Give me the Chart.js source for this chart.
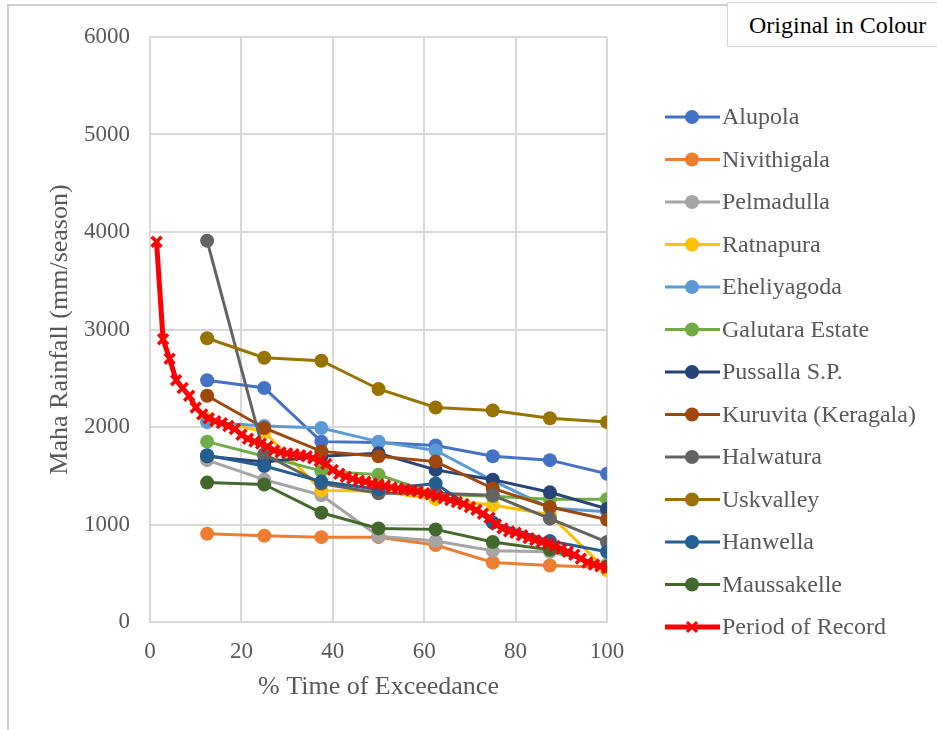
<!DOCTYPE html>
<html>
<head>
<meta charset="utf-8">
<script src="https://cdn.jsdelivr.net/npm/chart.js@4.4.1/dist/chart.umd.min.js"></script>
<style>
  body { margin: 0; background: #fff; }
  #wrap { position: relative; width: 937px; height: 730px; overflow: hidden; }
  #frame { position: absolute; left: 7px; top: 4px; width: 940px; height: 740px;
           border-top: 2px solid #cfcfcf; border-left: 2px solid #cfcfcf; }
  #tag { position: absolute; left: 727px; top: 2px; width: 215px; height: 45px;
         border: 1px solid #d6d6d6; background: #fff; box-sizing: border-box;
         font: 24px "Liberation Serif", "Times New Roman", serif; color: #000;
         line-height: 45px; padding-left: 21px; }
  canvas { position: absolute; left: 0; top: 0; }
</style>
</head>
<body>
<div id="wrap">
  <div id="frame"></div>
  <canvas id="chart1" width="937" height="730"></canvas>
  <div id="tag">Original in Colour</div>
</div>
<script>
// exceedance positions of the station curves (%)
const stationX = [12.5, 25, 37.5, 50, 62.5, 75, 87.5, 100];

// rainfall per station (mm/season)
const alupola     = [2480, 2400, 1850, 1840, 1810, 1700, 1660, 1520];
const nivithigala = [905, 885, 870, 870, 790, 610, 580, 560];
const pelmadulla  = [1660, 1460, 1300, 880, 830, 730, 720, 590];
const ratnapura   = [2080, 1950, 1350, 1340, 1260, 1200, 1100, 530];
const eheliyagoda = [2050, 2010, 1990, 1850, 1760, 1450, 1170, 1130];
const galutara    = [1850, 1700, 1550, 1510, 1310, 1290, 1260, 1260];
const pussalla    = [1700, 1640, 1700, 1730, 1560, 1460, 1330, 1160];
const kuruvita    = [2320, 1990, 1750, 1700, 1645, 1370, 1180, 1050];
const halwatura   = [3910, 1720, 1420, 1320, 1320, 1300, 1060, 820];
const uskvalley   = [2910, 2710, 2680, 2390, 2200, 2170, 2090, 2050];
const hanwella    = [1710, 1600, 1440, 1360, 1420, 1020, 830, 720];
const maussakelle = [1430, 1410, 1120, 960, 950, 820, 740, 570];

// period of record, ranked from wettest to driest season
const recordValues = [3900, 2900, 2700, 2480, 2400, 2320, 2200, 2130, 2090, 2060,
  2040, 2010, 1980, 1920, 1880, 1850, 1830, 1800, 1760, 1740,
  1730, 1720, 1710, 1700, 1680, 1650, 1620, 1560, 1520, 1490,
  1470, 1450, 1440, 1420, 1410, 1400, 1380, 1370, 1360, 1350,
  1340, 1320, 1310, 1290, 1270, 1250, 1230, 1210, 1180, 1150,
  1110, 1070, 1000, 960, 930, 915, 890, 860, 840, 820,
  805, 780, 750, 720, 690, 650, 610, 590, 570, 550];

const names = ['Alupola', 'Nivithigala', 'Pelmadulla', 'Ratnapura', 'Eheliyagoda',
  'Galutara Estate', 'Pussalla S.P.', 'Kuruvita (Keragala)', 'Halwatura', 'Uskvalley',
  'Hanwella', 'Maussakelle', 'Period of Record'];
const colors = ['#4472c4', '#ed7d31', '#a5a5a5', '#ffc000', '#5b9bd5', '#70ad47',
  '#264478', '#9e480e', '#636363', '#997300', '#255e91', '#43682b', '#ff0000'];

const yTicks = [0, 1000, 2000, 3000, 4000, 5000, 6000];
const xTicks = [0, 20, 40, 60, 80, 100];

const stations = [alupola, nivithigala, pelmadulla, ratnapura, eheliyagoda, galutara,
  pussalla, kuruvita, halwatura, uskvalley, hanwella, maussakelle];

const textGray = '#595959';
const serif = '"Liberation Serif", "Times New Roman", serif';

let datasets = stations.map(function(vals, i){
  return {
    label: names[i],
    data: vals.map(function(v, j){ return {x: stationX[j], y: v}; }),
    borderColor: colors[i],
    backgroundColor: colors[i],
    borderWidth: 3,
    pointRadius: 7,
    pointBorderWidth: 0,
    pointStyle: 'circle',
    order: names.length - i
  };
});

// rank -> % of time exceeded
datasets.push({
  label: names[12],
  data: recordValues.map(function(v, k){ return {x: (k + 1) * 100 / recordValues.length, y: v}; }),
  borderColor: colors[12],
  backgroundColor: colors[12],
  borderWidth: 5,
  pointStyle: 'crossRot',
  pointRadius: 7,
  pointBorderWidth: 3.5,
  order: 0
});

// legend drawn to the right: short line with the series marker
const sideLegend = {
  id: 'sideLegend',
  afterDraw(chart) {
    const ctx = chart.ctx;
    ctx.save();
    chart.data.datasets.forEach(function(ds, i){
      const y = 117 + i * 42.5;
      ctx.strokeStyle = ds.borderColor;
      ctx.lineWidth = ds.borderWidth;
      ctx.beginPath();
      ctx.moveTo(665, y);
      ctx.lineTo(720, y);
      ctx.stroke();
      if (ds.pointStyle === 'circle') {
        ctx.fillStyle = ds.backgroundColor;
        ctx.beginPath();
        ctx.arc(692, y, 7, 0, Math.PI * 2);
        ctx.fill();
      } else {
        ctx.lineWidth = 3;
        ctx.beginPath();
        ctx.moveTo(687, y - 5); ctx.lineTo(697, y + 5);
        ctx.moveTo(697, y - 5); ctx.lineTo(687, y + 5);
        ctx.stroke();
      }
      ctx.fillStyle = textGray;
      ctx.font = '24px ' + serif;
      ctx.textBaseline = 'middle';
      ctx.textAlign = 'left';
      ctx.fillText(ds.label, 722, y + 1);
    });
    ctx.restore();
  }
};

const grid = { color: '#d9d9d9', lineWidth: 2, drawTicks: false };
const border = { color: '#d9d9d9', width: 2 };

new Chart(document.getElementById('chart1').getContext('2d'), {
  type: 'line',
  data: { datasets: datasets },
  plugins: [sideLegend],
  options: {
    responsive: false,
    animation: false,
    layout: { padding: { left: 0, right: 330, top: 37, bottom: 0 } },
    plugins: { legend: { display: false }, tooltip: { enabled: false } },
    scales: {
      x: {
        type: 'linear', min: 0, max: 100,
        afterBuildTicks(s) { s.ticks = xTicks.map(function(v){ return {value: v}; }); },
        afterFit(s) { s.height = 108; },
        grid: grid, border: border,
        ticks: { color: textGray, font: { family: serif, size: 23 }, padding: 16,
                 callback: function(v){ return String(v); } },
        title: { display: true, text: '% Time of Exceedance', color: textGray,
                 font: { family: serif, size: 26 }, padding: { top: 0, bottom: 27 } }
      },
      y: {
        type: 'linear', min: 0, max: 6000,
        afterBuildTicks(s) { s.ticks = yTicks.map(function(v){ return {value: v}; }); },
        afterFit(s) { s.width = 150; },
        grid: grid, border: border,
        ticks: { color: textGray, font: { family: serif, size: 23 }, padding: 20,
                 callback: function(v){ return String(v); } },
        title: { display: true, text: 'Maha Rainfall (mm/season)', color: textGray,
                 font: { family: serif, size: 26 }, padding: { top: 45, bottom: 0 } }
      }
    }
  }
});
</script>
</body>
</html>
